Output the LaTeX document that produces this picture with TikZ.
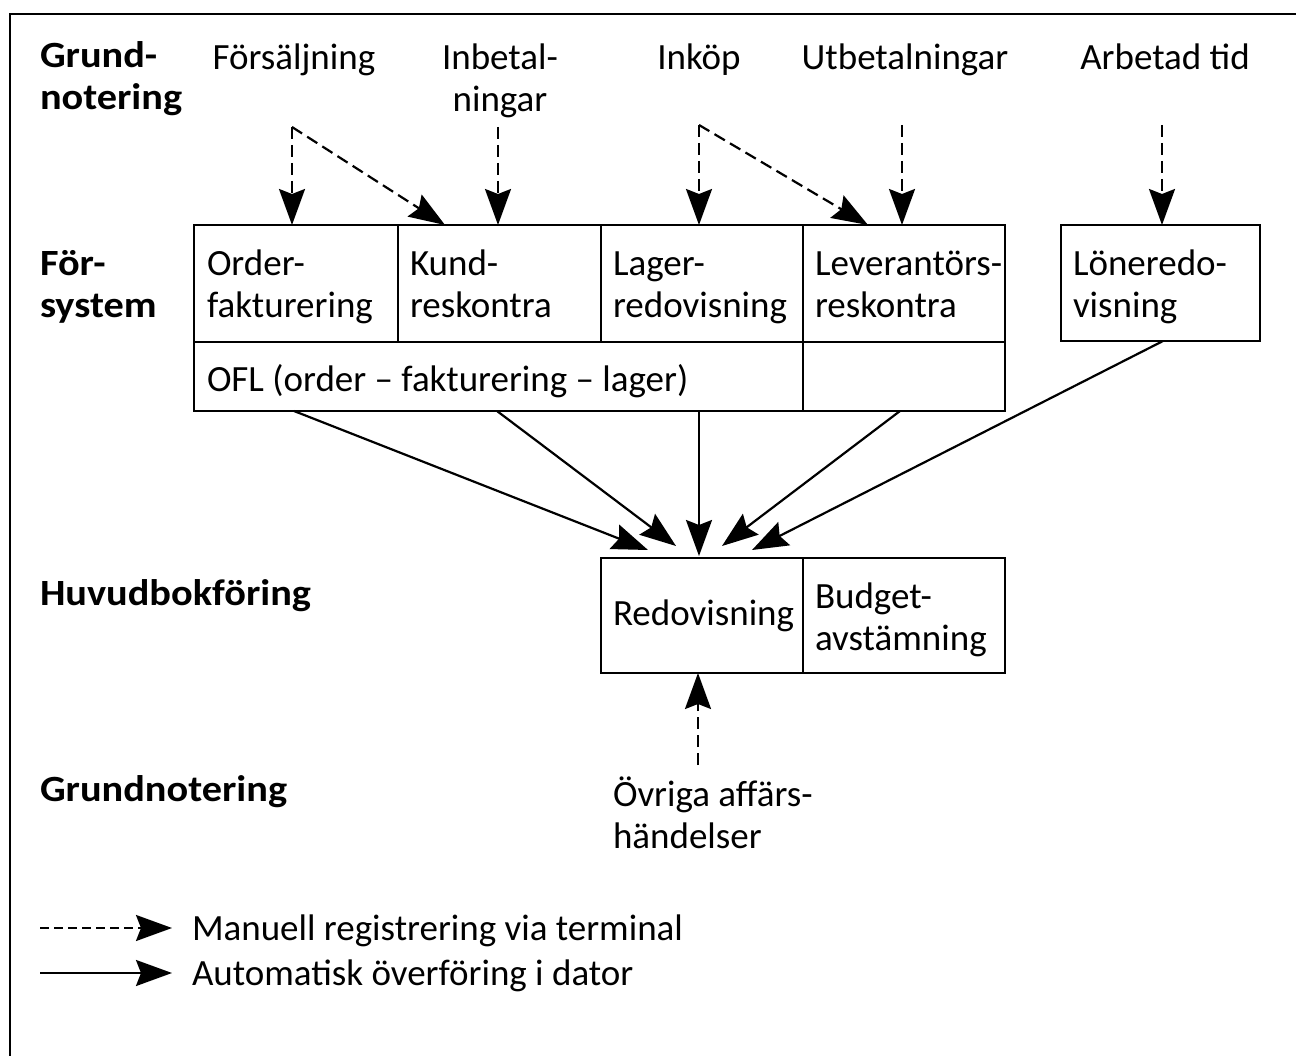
\documentclass[tikz,border=0pt]{standalone}
\usepackage{fontspec}
\setmainfont{Carlito}[BoldFeatures={FakeStretch=1.09}]
\usetikzlibrary{arrows.meta,calc}
\begin{document}
\begin{tikzpicture}[x=1pt,y=-1pt,
  every node/.style={font=\fontsize{37}{42}\selectfont, inner sep=0pt, outer sep=0pt},
  cell/.style={draw, line width=2.2pt, anchor=north west},
  lbl/.style={anchor=base west, align=left},
  hdr/.style={anchor=base west, align=left, font=\fontsize{37}{42}\selectfont\bfseries},
  top/.style={anchor=base, align=center},
  tipA/.style={-{Stealth[length=36pt,width=26pt,inset=5pt]}},
  man/.style={tipA, line width=2.2pt, dash pattern=on 12pt off 6pt},
  lman/.style={tipA, line width=2.2pt, dash pattern=on 9pt off 5pt},
  auto/.style={tipA, line width=2.2pt}]
\useasboundingbox (0,0) rectangle (1296,1056);
% outer frame
\draw[line width=2.5pt] (10,1070) -- (10,14) -- (1310,14);
% left headings
\node[hdr] (h1) at (40,110) {Grund-\\notering};
\node[hdr] (h2) at (40,318) {För-\\system};
\node[hdr] (h3) at (40,605) {Huvudbokföring};
\node[hdr] (h4) at (40,801) {Grundnotering};
% top labels
\node[top] (t1) at (294,70) {Försäljning};
\node[top] (t2) at (500,112) {Inbetal-\\ningar};
\node[top] (t3) at (699,70) {Inköp};
\node[top] (t4) at (905,70) {Utbetalningar};
\node[top] (t5) at (1165,70) {Arbetad tid};
% cells
\node[cell, minimum width=204pt, minimum height=117pt] (order) at (194,225) {};
\node[cell, minimum width=203pt, minimum height=117pt] (kund) at (398,225) {};
\node[cell, minimum width=202pt, minimum height=117pt] (lager) at (601,225) {};
\node[cell, minimum width=202pt, minimum height=117pt] (lev) at (803,225) {};
\node[cell, minimum width=609pt, minimum height=69pt] (ofl) at (194,342) {};
\node[cell, minimum width=202pt, minimum height=69pt] (empty) at (803,342) {};
\node[cell, minimum width=199pt, minimum height=116pt] (lon) at (1061,225) {};
\node[cell, minimum width=202pt, minimum height=115pt] (redo) at (601,558) {};
\node[cell, minimum width=202pt, minimum height=115pt] (budget) at (803,558) {};
% cell texts
\node[lbl] (c1) at (207,318) {Order-\\fakturering};
\node[lbl] (c2) at (410,318) {Kund-\\reskontra};
\node[lbl] (c3) at (613,318) {Lager-\\redovisning};
\node[lbl] (c4) at (815,318) {Leverantörs-\\reskontra};
\node[lbl] (c5) at (1073,318) {Löneredo-\\visning};
\node[lbl] (c6) at (207,392) {OFL (order -- fakturering -- lager)};
\node[lbl] (c7) at (613,625) {Redovisning};
\node[lbl] (c8) at (815,650) {Budget-\\avstämning};
\node[lbl] (c9) at (613,848) {Övriga affärs-\\händelser};
% dashed start points
\coordinate (s1) at (292,127);
\coordinate (s2) at (498,127);
\coordinate (s3) at (699,125);
\coordinate (s4) at (902,125);
\coordinate (s5) at (1162,125);
\coordinate (s6) at (698,765);
\draw[man] (s1) -- (s1 |- order.north);
\draw[man] (s1) -- ($(kund.north west)+(47,0)$);
\draw[man] (s2) -- (s2 |- kund.north);
\draw[man] (s3) -- (s3 |- lager.north);
\draw[man] (s3) -- ($(lev.north west)+(65,0)$);
\draw[man] (s4) -- (s4 |- lev.north);
\draw[man] (s5) -- (s5 |- lon.north);
\draw[man] (s6) -- (s6 |- redo.south);
% automatic arrows
\coordinate (e1) at (648,550);
\coordinate (e2) at (676,546);
\coordinate (e3) at (699,556);
\coordinate (e4) at (722,546);
\coordinate (e5) at (752,550);
\draw[auto] ($(ofl.south west)+(100,0)$) -- (e1);
\draw[auto] ($(ofl.south west)+(303,0)$) -- (e2);
\draw[auto] ($(ofl.south west)+(505,0)$) -- (e3);
\draw[auto] ($(empty.south west)+(97,0)$) -- (e4);
\draw[auto] ($(lon.south west)+(102,0)$) -- (e5);
% legend
\coordinate (l1a) at (40,928);
\coordinate (l1b) at (172,928);
\coordinate (l2a) at (40,973);
\coordinate (l2b) at (172,973);
\draw[lman] (l1a) -- (l1b);
\draw[auto] (l2a) -- (l2b);
\node[lbl] (g1) at (192,940) {Manuell registrering via terminal};
\node[lbl] (g2) at (192,985) {Automatisk överföring i dator};
\end{tikzpicture}
\end{document}
